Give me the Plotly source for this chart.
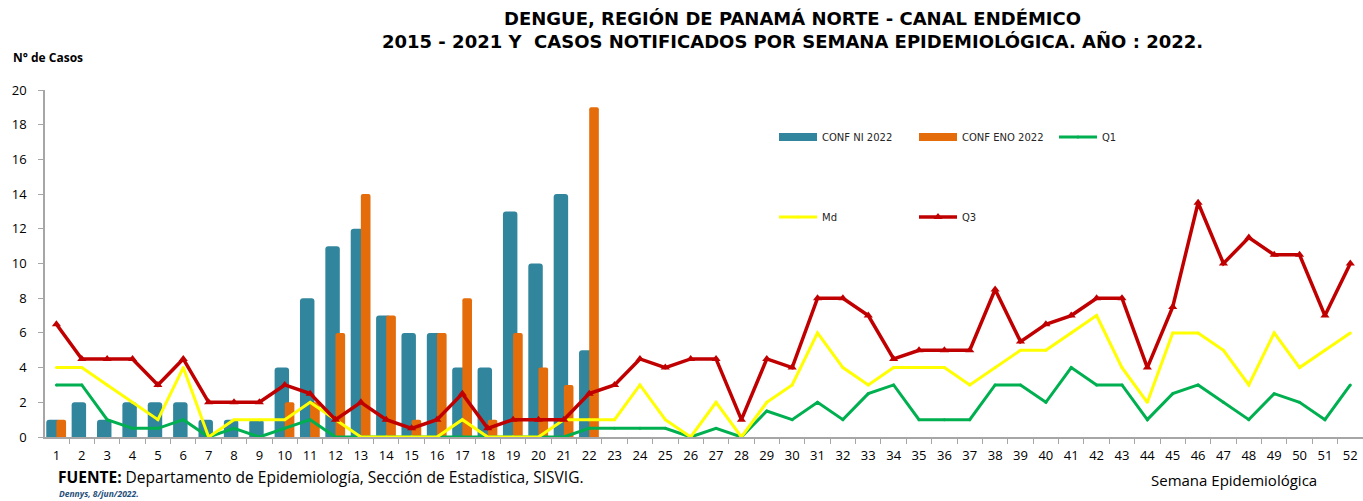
import plotly.graph_objects as go

weeks = list(range(1, 53))
bar_weeks = list(range(1, 23))
conf_ni_2022 = [1, 2, 1, 2, 2, 2, 1, 1, 1, 4, 8, 11, 12, 7, 6, 6, 4, 4, 13, 10, 14, 5]
conf_eno_2022 = [1, 0, 0, 0, 0, 0, 0, 0, 0, 2, 2, 6, 14, 7, 1, 6, 8, 1, 6, 4, 3, 19]
q1 = [3, 3, 1, 0.5, 0.5, 1, 0, 0.5, 0, 0.5, 1, 0, 0, 0, 0, 0, 0, 0, 0, 0, 0, 0.5,
      0.5, 0.5, 0.5, 0, 0.5, 0, 1.5, 1, 2, 1, 2.5, 3, 1, 1, 1, 3, 3, 2, 4, 3, 3, 1,
      2.5, 3, 2, 1, 2.5, 2, 1, 3]
md = [4, 4, 3, 2, 1, 4, 0, 1, 1, 1, 2, 1, 0, 0, 0, 0, 1, 0, 0, 0, 1, 1,
      1, 3, 1, 0, 2, 0, 2, 3, 6, 4, 3, 4, 4, 4, 3, 4, 5, 5, 6, 7, 4, 2,
      6, 6, 5, 3, 6, 4, 5, 6]
q3 = [6.5, 4.5, 4.5, 4.5, 3, 4.5, 2, 2, 2, 3, 2.5, 1, 2, 1, 0.5, 1, 2.5, 0.5, 1, 1, 1, 2.5,
      3, 4.5, 4, 4.5, 4.5, 1, 4.5, 4, 8, 8, 7, 4.5, 5, 5, 5, 8.5, 5.5, 6.5, 7, 8, 8, 4,
      7.5, 13.5, 10, 11.5, 10.5, 10.5, 7, 10]
y_ticks = list(range(0, 21, 2))

C_BLUE = "#31859C"
C_ORANGE = "#E46C0A"
C_GREEN = "#00B050"
C_YELLOW = "#FFFF00"
C_RED = "#C00000"

L, R, T, B = 45, 1363, 90, 437
W, H = 1363, 501


def px(x):
    return (x - L) / (R - L)


def py(y):
    return (B - y) / (B - T)


fig = go.Figure()
fig.add_trace(go.Bar(x=bar_weeks, y=conf_ni_2022, name="CONF NI 2022",
                     marker=dict(color=C_BLUE, cornerradius=3, line=dict(width=0)),
                     offset=-0.4, width=0.57, showlegend=False))
fig.add_trace(go.Bar(x=bar_weeks, y=conf_eno_2022, name="CONF ENO 2022",
                     marker=dict(color=C_ORANGE, cornerradius=2, line=dict(width=0)),
                     offset=0.0, width=0.38, showlegend=False))
# legend swatches for bars
fig.add_trace(go.Scatter(x=[None], y=[None], mode="lines", name="CONF NI 2022",
                         line=dict(color=C_BLUE, width=8), legend="legend"))
fig.add_trace(go.Scatter(x=[None], y=[None], mode="lines", name="CONF ENO 2022",
                         line=dict(color=C_ORANGE, width=8), legend="legend"))
fig.add_trace(go.Scatter(x=weeks, y=q1, mode="lines+markers", name="Q1",
                         line=dict(color=C_GREEN, width=3),
                         marker=dict(size=3, color=C_GREEN), legend="legend"))
fig.add_trace(go.Scatter(x=weeks, y=md, mode="lines+markers", name="Md",
                         line=dict(color=C_YELLOW, width=3),
                         marker=dict(size=3, color=C_YELLOW), legend="legend2"))
fig.add_trace(go.Scatter(x=weeks, y=q3, mode="lines+markers", name="Q3",
                         line=dict(color=C_RED, width=3.5),
                         marker=dict(symbol="triangle-up", size=8, color=C_RED),
                         legend="legend2"))

legend_common = dict(orientation="h", entrywidth=87, entrywidthmode="pixels",
                     itemwidth=38, bgcolor="rgba(0,0,0,0)",
                     font=dict(family="DejaVu Sans", size=10, color="#262626"),
                     xanchor="left", yanchor="middle", tracegroupgap=0)

fig.update_layout(
    width=W, height=H,
    margin=dict(l=L, r=W - R, t=T, b=H - B, pad=0),
    paper_bgcolor="white", plot_bgcolor="white",
    barmode="overlay",
    showlegend=True,
    legend=dict(x=px(774), y=py(137), **legend_common),
    legend2=dict(x=px(774), y=py(217), **legend_common),
    xaxis=dict(range=[0.55, 52.5], tickmode="array", tickvals=weeks,
               ticktext=[str(w) for w in weeks], ticks="", showgrid=False,
               zeroline=False, showline=True, linecolor="#A6A6A6", linewidth=1.5,
               ticklabelstandoff=6,
               tickfont=dict(family="Open Sans", size=13, color="#000000"),
               minor=dict(tickmode="array", tickvals=[w + 0.5 for w in range(0, 53)],
                          ticks="outside", ticklen=5, tickcolor="#A6A6A6", showgrid=False)),
    yaxis=dict(range=[0, 20], tickmode="array", tickvals=y_ticks, ticks="outside",
               ticklen=5, tickcolor="#A6A6A6", showgrid=False, zeroline=False,
               showline=True, linecolor="#A6A6A6", linewidth=1.5,
               ticklabelstandoff=9,
               tickfont=dict(family="Open Sans", size=13, color="#000000")),
)

ann = []
ann.append(dict(text="<b>DENGUE, REGIÓN DE PANAMÁ NORTE - CANAL ENDÉMICO<br>"
                     "2015 - 2021 Y  CASOS NOTIFICADOS POR SEMANA EPIDEMIOLÓGICA. AÑO : 2022.</b>",
                x=px(792), y=py(30), xref="paper", yref="paper", showarrow=False,
                xanchor="center", yanchor="middle", align="center",
                font=dict(family="DejaVu Sans", size=18, color="#000000")))
ann.append(dict(text="<b>N° de Casos</b>", x=px(11), y=py(58), xref="paper", yref="paper",
                showarrow=False, xanchor="left", yanchor="middle",
                font=dict(family="Open Sans", size=12, color="#000000")))
ann.append(dict(text="Semana Epidemiológica", x=px(1149), y=py(480), xref="paper", yref="paper",
                showarrow=False, xanchor="left", yanchor="middle",
                font=dict(family="Open Sans", size=15, color="#000000")))
ann.append(dict(text="<b>FUENTE:</b> Departamento de Epidemiología, Sección de Estadística, SISVIG.",
                x=px(56), y=py(477), xref="paper", yref="paper",
                showarrow=False, xanchor="left", yanchor="middle",
                font=dict(family="Open Sans", size=15.5, color="#000000")))
ann.append(dict(text="<i><b>Dennys, 8/jun/2022.</b></i>", x=px(57), y=py(501), xref="paper", yref="paper",
                showarrow=False, xanchor="left", yanchor="bottom",
                font=dict(family="Open Sans", size=8.5, color="#1F4E79")))
fig.update_layout(annotations=ann)

fig.write_html("out.html", config={"displayModeBar": False},
               post_script="document.body.style.margin='0px';")
